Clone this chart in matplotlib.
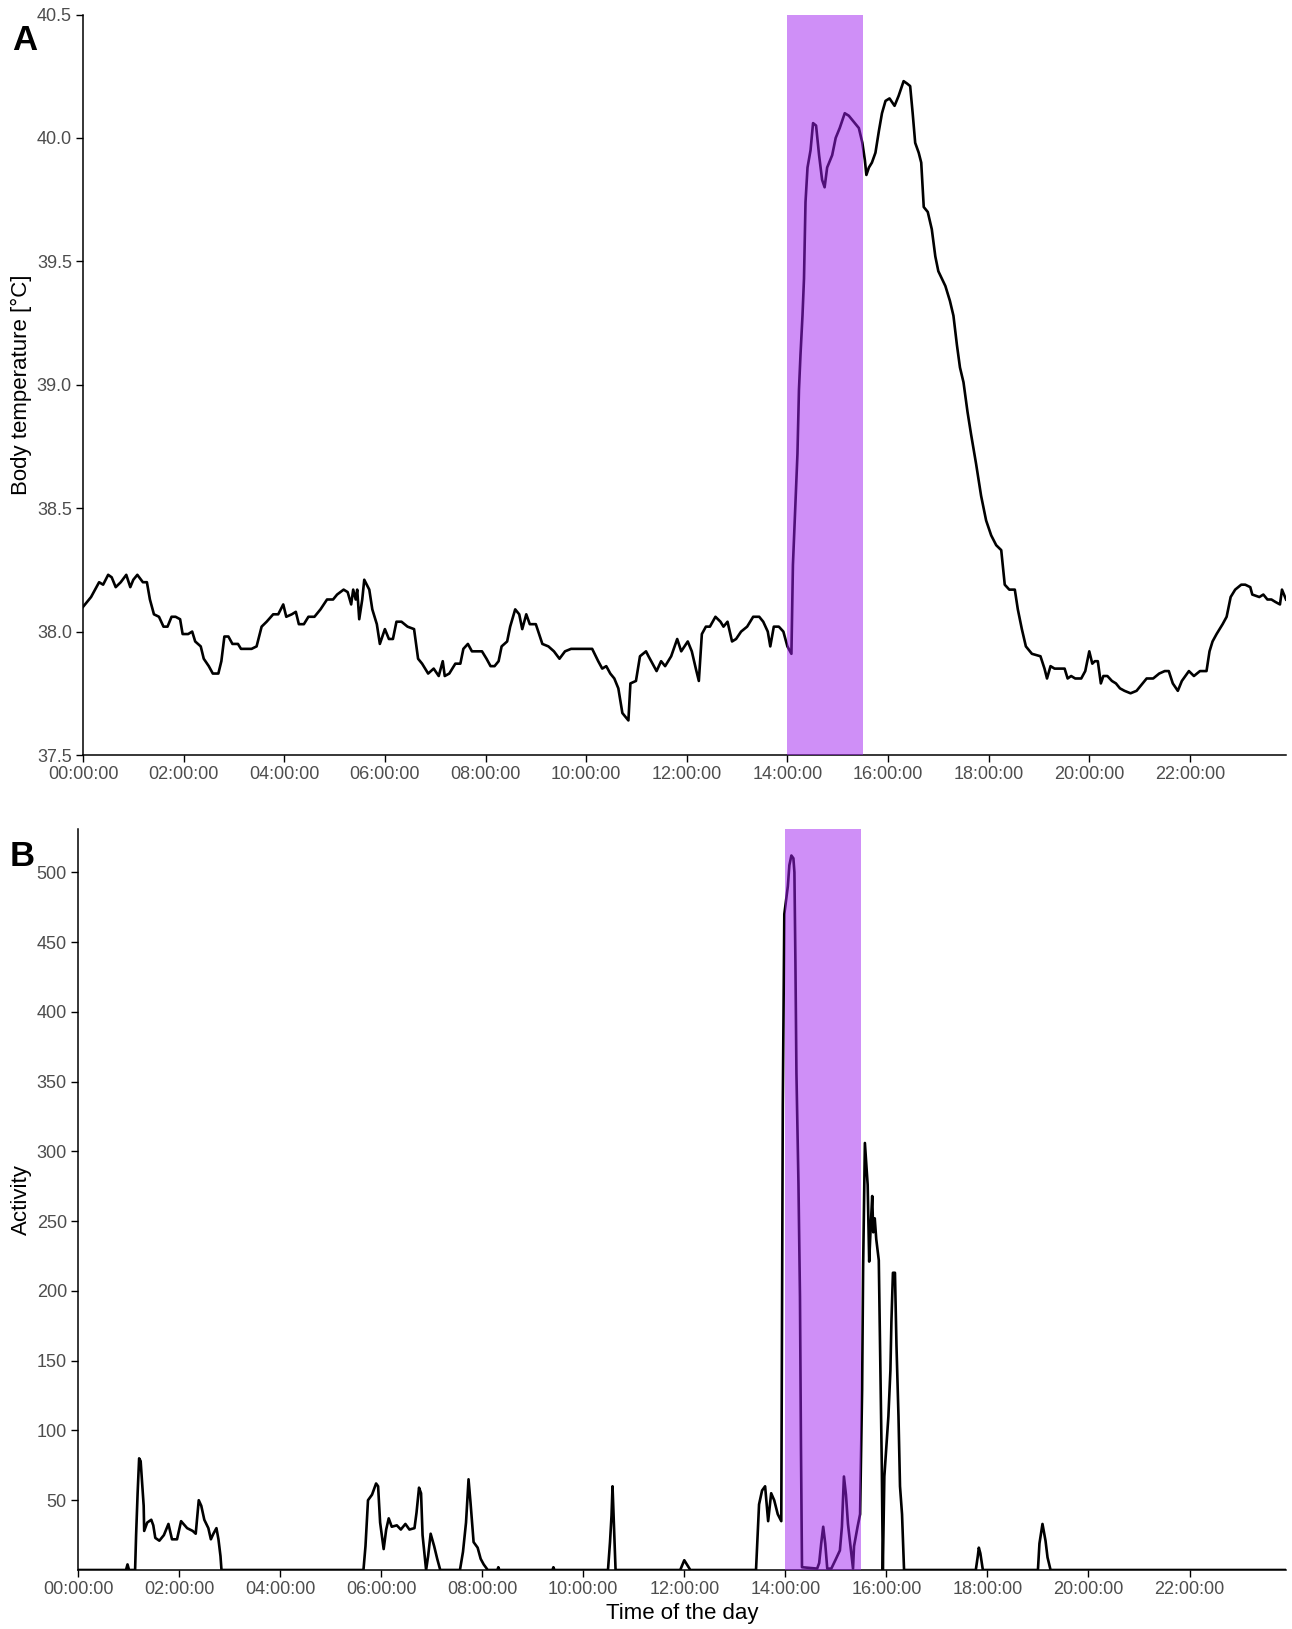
import matplotlib
matplotlib.use('Agg')
import matplotlib.pyplot as plt
import numpy as np

plt.rcParams['font.family'] = ['Liberation Sans', 'DejaVu Sans']

# ---- panel A: body temperature (hour of day, degC) ----
temp_hour = [
    0.00, 0.16, 0.32, 0.40, 0.50, 0.57, 0.65, 0.75, 0.86, 0.94, 1.00, 1.08, 1.19, 1.27, 1.33, 1.41,
    1.51, 1.60, 1.68, 1.76, 1.84, 1.93, 1.98, 2.09, 2.17, 2.23, 2.34, 2.40, 2.50, 2.58, 2.69, 2.75,
    2.81, 2.89, 2.97, 3.08, 3.14, 3.35, 3.45, 3.55, 3.65, 3.78, 3.88, 3.98, 4.04, 4.15, 4.23, 4.29,
    4.39, 4.48, 4.60, 4.72, 4.85, 4.97, 5.05, 5.18, 5.26, 5.33, 5.37, 5.42, 5.45, 5.49, 5.55, 5.59,
    5.69, 5.75, 5.84, 5.90, 6.00, 6.08, 6.16, 6.23, 6.33, 6.45, 6.58, 6.66, 6.74, 6.86, 6.97, 7.07,
    7.15, 7.19, 7.28, 7.40, 7.50, 7.56, 7.65, 7.73, 7.93, 8.02, 8.10, 8.18, 8.26, 8.32, 8.43, 8.49,
    8.59, 8.67, 8.73, 8.81, 8.88, 9.00, 9.13, 9.25, 9.36, 9.47, 9.58, 9.70, 9.83, 10.12, 10.24, 10.32,
    10.40, 10.48, 10.56, 10.64, 10.72, 10.84, 10.88, 10.99, 11.07, 11.19, 11.24, 11.40, 11.49, 11.57,
    11.69, 11.81, 11.89, 12.02, 12.10, 12.18, 12.24, 12.30, 12.38, 12.46, 12.57, 12.67, 12.73, 12.81,
    12.90, 12.98, 13.08, 13.20, 13.32, 13.44, 13.52, 13.61, 13.66, 13.73, 13.83, 13.92, 14.00, 14.08,
    14.11, 14.15, 14.20, 14.23, 14.26, 14.30, 14.33, 14.36, 14.40, 14.46, 14.51, 14.57, 14.63, 14.69,
    14.74, 14.79, 14.89, 14.96, 15.04, 15.14, 15.22, 15.34, 15.42, 15.49, 15.54, 15.57, 15.62, 15.68,
    15.75, 15.82, 15.88, 15.95, 16.03, 16.13, 16.21, 16.26, 16.31, 16.38, 16.44, 16.49, 16.54, 16.61,
    16.66, 16.71, 16.79, 16.87, 16.94, 17.00, 17.07, 17.14, 17.23, 17.30, 17.37, 17.43, 17.50, 17.58,
    17.65, 17.75, 17.85, 17.95, 18.05, 18.15, 18.25, 18.32, 18.41, 18.52, 18.58, 18.66, 18.74, 18.86,
    19.03, 19.11, 19.16, 19.23, 19.31, 19.43, 19.51, 19.57, 19.64, 19.72, 19.84, 19.92, 20.00, 20.06,
    20.11, 20.17, 20.23, 20.28, 20.36, 20.45, 20.53, 20.61, 20.70, 20.82, 20.94, 21.06, 21.14, 21.27,
    21.39, 21.50, 21.58, 21.66, 21.76, 21.84, 21.98, 22.08, 22.20, 22.33, 22.39, 22.45, 22.53, 22.65,
    22.73, 22.81, 22.90, 23.02, 23.10, 23.20, 23.24, 23.38, 23.46, 23.54, 23.62, 23.70, 23.79, 23.83,
    23.87, 23.91,
]
temp_val = [
    38.10, 38.14, 38.20, 38.19, 38.23, 38.22, 38.18, 38.20, 38.23, 38.18, 38.21, 38.23, 38.20, 38.20, 38.13, 38.07,
    38.06, 38.02, 38.02, 38.06, 38.06, 38.05, 37.99, 37.99, 38.00, 37.96, 37.94, 37.89, 37.86, 37.83, 37.83, 37.88,
    37.98, 37.98, 37.95, 37.95, 37.93, 37.93, 37.94, 38.02, 38.04, 38.07, 38.07, 38.11, 38.06, 38.07, 38.08, 38.03,
    38.03, 38.06, 38.06, 38.09, 38.13, 38.13, 38.15, 38.17, 38.16, 38.11, 38.17, 38.13, 38.17, 38.05, 38.13, 38.21,
    38.17, 38.09, 38.03, 37.95, 38.01, 37.97, 37.97, 38.04, 38.04, 38.02, 38.01, 37.89, 37.87, 37.83, 37.85, 37.82,
    37.88, 37.82, 37.83, 37.87, 37.87, 37.93, 37.95, 37.92, 37.92, 37.89, 37.86, 37.86, 37.88, 37.94, 37.96, 38.02,
    38.09, 38.07, 38.01, 38.07, 38.03, 38.03, 37.95, 37.94, 37.92, 37.89, 37.92, 37.93, 37.93, 37.93, 37.88, 37.85,
    37.86, 37.83, 37.81, 37.77, 37.67, 37.64, 37.79, 37.80, 37.90, 37.92, 37.90, 37.84, 37.88, 37.86,
    37.90, 37.97, 37.92, 37.96, 37.92, 37.85, 37.80, 37.99, 38.02, 38.02, 38.06, 38.04, 38.02, 38.04,
    37.96, 37.97, 38.00, 38.02, 38.06, 38.06, 38.04, 38.00, 37.94, 38.02, 38.02, 38.00, 37.94, 37.91,
    38.27, 38.47, 38.72, 38.98, 39.12, 39.28, 39.43, 39.74, 39.88, 39.95, 40.06, 40.05, 39.93, 39.83,
    39.80, 39.88, 39.93, 40.00, 40.04, 40.10, 40.09, 40.06, 40.04, 39.98, 39.91, 39.85, 39.88, 39.90,
    39.94, 40.03, 40.10, 40.15, 40.16, 40.13, 40.17, 40.20, 40.23, 40.22, 40.21, 40.10, 39.98, 39.94,
    39.90, 39.72, 39.70, 39.63, 39.52, 39.46, 39.43, 39.40, 39.34, 39.28, 39.16, 39.07, 39.01, 38.89,
    38.80, 38.68, 38.55, 38.45, 38.39, 38.35, 38.33, 38.19, 38.17, 38.17, 38.09, 38.01, 37.94, 37.91,
    37.90, 37.85, 37.81, 37.86, 37.85, 37.85, 37.85, 37.81, 37.82, 37.81, 37.81, 37.84, 37.92, 37.87,
    37.88, 37.88, 37.79, 37.82, 37.82, 37.80, 37.79, 37.77, 37.76, 37.75, 37.76, 37.79, 37.81, 37.81,
    37.83, 37.84, 37.84, 37.79, 37.76, 37.80, 37.84, 37.82, 37.84, 37.84, 37.92, 37.96, 37.99, 38.03,
    38.06, 38.14, 38.17, 38.19, 38.19, 38.18, 38.15, 38.14, 38.15, 38.13, 38.13, 38.12, 38.11, 38.17,
    38.15, 38.13,
]

# ---- panel B: activity counts ----
act_hour = [
    0.00, 0.95, 0.98, 1.01, 1.13, 1.15, 1.18, 1.21, 1.24, 1.27, 1.30, 1.31, 1.37, 1.45, 1.49, 1.53,
    1.61, 1.70, 1.79, 1.86, 1.96, 2.04, 2.16, 2.27, 2.33, 2.39, 2.44, 2.50, 2.58, 2.63, 2.68, 2.74,
    2.78, 2.82, 2.84, 5.65, 5.69, 5.74, 5.82, 5.90, 5.94, 5.98, 6.05, 6.10, 6.15, 6.21, 6.31, 6.39,
    6.48, 6.56, 6.66, 6.70, 6.75, 6.79, 6.82, 6.89, 6.93, 6.98, 7.05, 7.11, 7.17, 7.56, 7.62, 7.68,
    7.73, 7.77, 7.83, 7.91, 7.97, 8.03, 8.11, 8.30, 8.32, 8.34, 9.39, 9.41, 9.43, 10.49, 10.53, 10.56,
    10.58, 10.61, 10.64, 11.92, 12.00, 12.12, 13.42, 13.48, 13.54, 13.60, 13.66, 13.72, 13.78, 13.85,
    13.92, 13.95, 13.98, 14.05, 14.08, 14.12, 14.16, 14.18, 14.20, 14.22, 14.26, 14.29, 14.31, 14.33,
    14.63, 14.67, 14.71, 14.75, 14.79, 14.83, 14.91, 14.99, 15.08, 15.12, 15.16, 15.20, 15.24, 15.30,
    15.34, 15.36, 15.43, 15.48, 15.52, 15.54, 15.575, 15.63, 15.66, 15.69, 15.72, 15.74, 15.77, 15.80,
    15.85, 15.88, 15.91, 15.93, 15.96, 16.00, 16.04, 16.08, 16.10, 16.13, 16.17, 16.20, 16.24, 16.27,
    16.31, 16.33, 16.35, 17.77, 17.81, 17.83, 17.86, 17.91, 19.00, 19.03, 19.07, 19.09, 19.12, 19.15,
    19.19, 19.25, 23.91,
]
act_val = [
    0, 0, 4, 0, 0, 25, 55, 80, 78, 62, 46, 28, 34, 36, 32, 23,
    21, 25, 33, 22, 22, 35, 30, 28, 26, 50, 46, 36, 30, 22, 26, 30,
    22, 10, 0, 0, 17, 50, 54, 62, 60, 34, 15, 29, 37, 31, 32, 29,
    33, 29, 30, 41, 59, 55, 25, 0, 10, 26, 17, 8, 0, 0, 13, 34,
    65, 48, 20, 16, 8, 4, 0, 0, 2, 0, 0, 2, 0, 0, 20, 39,
    60, 29, 0, 0, 7, 0, 0, 47, 57, 60, 35, 55, 50, 40,
    35, 333, 470, 490, 505, 512, 510, 500, 435, 356, 277, 196, 87, 2,
    1, 5, 19, 31, 19, 1, 1, 7, 14, 31, 67, 54, 33, 14,
    1, 17, 31, 40, 129, 217, 306, 276, 221, 246, 268, 242, 252, 237,
    222, 149, 74, 0, 67, 88, 110, 143, 178, 213, 213, 161, 110, 60,
    40, 20, 0, 0, 10, 16, 12, 0, 0, 19, 28, 33, 27, 21,
    9, 0, 0,
]

shade_start, shade_end = 14.0, 15.5
x_end = 23.91
tick_hours = list(range(0, 24, 2))
tick_labels = [f'{h:02d}:00:00' for h in tick_hours]
temp_ticks = [37.5, 38.0, 38.5, 39.0, 39.5, 40.0, 40.5]
act_ticks = [50, 100, 150, 200, 250, 300, 350, 400, 450, 500]

W, H = 1292, 1629
fig = plt.figure(figsize=(W / 100, H / 100), dpi=100)

def style(ax):
    for s in ['top', 'right']:
        ax.spines[s].set_visible(False)
    for s in ['left', 'bottom']:
        ax.spines[s].set_linewidth(1.1)
        ax.spines[s].set_color('black')
    ax.tick_params(length=5, width=1.0, color='black', labelsize=13,
                   labelcolor='#4D4D4D', pad=3)
    ax.set_xticks(tick_hours)
    ax.set_xticklabels(tick_labels)
    ax.set_xlim(0, x_end)

# panel A
axA = fig.add_axes([83 / W, 1 - 755 / H, (1286 - 83) / W, (755 - 14.5) / H])
axA.plot(temp_hour, temp_val, color='black', lw=1.9, zorder=2)
axA.axvspan(shade_start, shade_end, color='#A020F0', alpha=0.5, lw=0, zorder=3)
axA.set_ylim(37.5, 40.5)
axA.set_yticks(temp_ticks)
axA.set_yticklabels([f'{t:.1f}' for t in temp_ticks])
style(axA)

# panel B
axB = fig.add_axes([78 / W, 1 - 1570 / H, (1286 - 78) / W, (1570 - 829) / H])
axB.plot(act_hour, act_val, color='black', lw=1.9, zorder=2)
axB.axvspan(shade_start, shade_end, color='#A020F0', alpha=0.5, lw=0, zorder=3)
axB.set_ylim(0, 531)
axB.set_yticks(act_ticks)
style(axB)

fig.text(21 / W, 1 - 385 / H, 'Body temperature [°C]', rotation=90, ha='center', va='center', fontsize=16)
fig.text(21 / W, 1 - 1200 / H, 'Activity', rotation=90, ha='center', va='center', fontsize=16)
fig.text(682 / W, 1 - 1613 / H, 'Time of the day', ha='center', va='center', fontsize=16)
fig.text(12 / W, 1 - 50 / H, 'A', ha='left', va='baseline', fontsize=25, fontweight='bold')
fig.text(10 / W, 1 - 866 / H, 'B', ha='left', va='baseline', fontsize=25, fontweight='bold')

fig.savefig('out.png', dpi=100)
